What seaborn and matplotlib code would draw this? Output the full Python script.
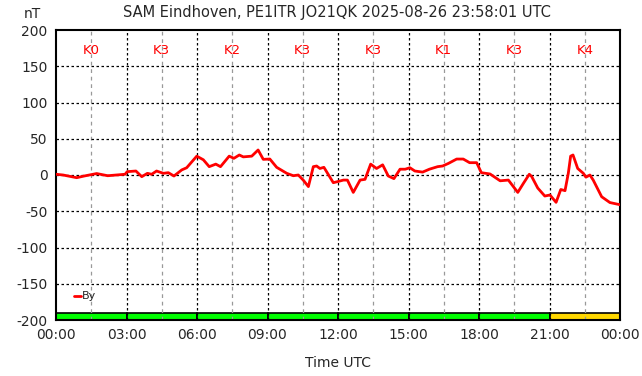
import numpy as np
import pandas as pd
import matplotlib
matplotlib.use("Agg")
import matplotlib.pyplot as plt
import seaborn as sns

# ---- data ----
hours = [0.0, 0.3, 0.88, 1.2, 1.73, 2.2, 2.94, 3.03, 3.4, 3.65, 3.89, 4.07, 4.28, 4.57, 4.78, 5.02,
         5.35, 5.56, 5.99, 6.27, 6.52, 6.8, 7.0, 7.37, 7.57, 7.8, 7.97, 8.33, 8.6, 8.82, 9.1,
         9.39, 9.82, 10.1, 10.31, 10.52, 10.74, 10.95, 11.09, 11.23, 11.4, 11.8, 12.0, 12.23,
         12.4, 12.65, 12.94, 13.15, 13.39, 13.64, 13.9, 14.14, 14.38, 14.64, 14.86, 15.06, 15.27,
         15.6, 15.89, 16.24, 16.45, 16.7, 17.05, 17.33, 17.6, 17.9, 18.1, 18.47, 18.9, 19.25,
         19.65, 19.89, 20.14, 20.24, 20.5, 20.8, 21.02, 21.28, 21.48, 21.66, 21.8, 21.9, 22.0,
         22.2, 22.44, 22.55, 22.72, 22.86, 23.22, 23.57, 24.0]
by_nt = [1, 0, -3.7, -1.4, 2, -1, 1, 4.6, 5.5, -2.3, 2.3, 1, 5.5, 2.3, 3.2, -1.4,
         7, 10, 26, 21, 11.5, 15, 11.5, 26, 23, 27.6, 25, 26, 34.5, 21.6, 22,
         10.6, 2.3, -1, 0, -7, -16, 11.5, 12.4, 9, 10.6, -10.6, -9, -7,
         -7, -24, -7, -6, 15, 9, 14, -1.4, -5, 8, 8, 10, 5.5,
         4, 8, 11.5, 12.4, 16, 22, 22, 17, 17, 3.2, 1.4, -8, -7,
         -24, -11.5, 1, -2, -18, -29, -27.6, -37.7, -20, -21.6, 2.3, 26, 27.6,
         9, 2.3, -3, 0, -7, -30, -38, -41]
k_labels = ["K0", "K3", "K2", "K3", "K3", "K1", "K3", "K4"]
k_colors = ["#00ff00", "#00ff00", "#00ff00", "#00ff00", "#00ff00", "#00ff00", "#00ff00", "#ffd700"]
x_ticklabels = ["00:00", "03:00", "06:00", "09:00", "12:00", "15:00", "18:00", "21:00", "00:00"]
y_ticks = [-200, -150, -100, -50, 0, 50, 100, 150, 200]

df = pd.DataFrame({"h": hours, "By": by_nt})

sns.set_style("white")
plt.rcParams["font.family"] = ["DejaVu Sans"]

fig = plt.figure(figsize=(6.42, 3.76), dpi=100)
ax = fig.add_axes([56/642, 1-320/376, 564/642, 290/376])

# K-index bar at bottom
for i, c in enumerate(k_colors):
    ax.bar(i*3 + 1.5, 10, width=3, bottom=-200, color=c, edgecolor="black",
           linewidth=1.2, zorder=1)

# grid
for i in range(16):
    xv = i*1.5
    if i % 2 == 1:
        ax.axvline(xv, color="#999999", ls=(0, (3, 3)), lw=0.9, zorder=2)
    elif i > 0:
        ax.axvline(xv, color="black", ls=(0, (2, 2)), lw=0.9, zorder=2)
for yv in y_ticks[1:-1]:
    ax.axhline(yv, color="black", ls=(0, (2, 2)), lw=0.9, zorder=2)
ax.axhline(-200, color="black", ls=(0, (2, 2)), lw=0.9, zorder=2)

sns.lineplot(data=df, x="h", y="By", color="#ff0000", linewidth=2.0, ax=ax,
             zorder=3, legend=False)

# K labels
for i, k in enumerate(k_labels):
    ax.text(i*3 + 1.5, 172, k, color="#ff0000", fontsize=9.5, ha="center", va="center")

# legend
ax.plot([0.75, 1.05], [-167, -167], color="#ff0000", lw=2, zorder=4)
ax.text(1.08, -167, "By", fontsize=8, va="center", ha="left")

ax.set_xlim(0, 24)
ax.set_ylim(-200, 200)
ax.set_xticks(range(0, 25, 3))
ax.set_xticklabels(x_ticklabels, fontsize=10)
ax.set_yticks(y_ticks)
ax.set_yticklabels([str(v) for v in y_ticks], fontsize=10)
ax.tick_params(length=0, pad=6)
ax.set_xlabel("Time UTC", fontsize=10, labelpad=10)
ax.set_ylabel("")
for s in ax.spines.values():
    s.set_color("black")
    s.set_linewidth(1.5)

fig.text(32/642, 1-14/376, "nT", fontsize=10, ha="center", va="center")
fig.text(337/642, 1-12/376, "SAM Eindhoven, PE1ITR JO21QK 2025-08-26 23:58:01 UTC",
         fontsize=10.5, ha="center", va="center")

fig.savefig("out.png", dpi=100)
